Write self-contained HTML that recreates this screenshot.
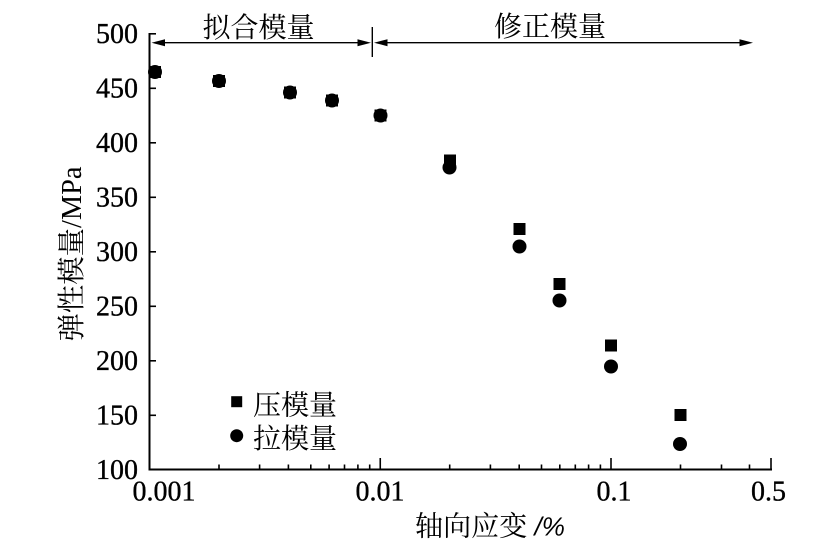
<!DOCTYPE html>
<html>
<head>
<meta charset="utf-8">
<style>
html,body{margin:0;padding:0;background:#fff;}
svg{display:block;}
.num{font-family:"Liberation Serif","Noto Serif CJK SC",serif;font-size:28px;fill:#000;stroke:#000;stroke-width:0.35;}
.cjk{font-family:"Liberation Serif","Noto Serif CJK SC",serif;font-size:28px;fill:#000;}
</style>
</head>
<body>
<svg width="838" height="560" viewBox="0 0 838 560" xmlns="http://www.w3.org/2000/svg">
<rect width="838" height="560" fill="#fff"/>

<!-- axes -->
<g stroke="#000" stroke-width="2" fill="none">
  <line x1="149.5" y1="33" x2="149.5" y2="470.5"/>
  <line x1="148.5" y1="469.5" x2="772" y2="469.5"/>
</g>

<!-- y ticks -->
<g stroke="#000" stroke-width="1.6">
  <line x1="149.5" y1="33.8" x2="156" y2="33.8"/>
  <line x1="149.5" y1="88.3" x2="156" y2="88.3"/>
  <line x1="149.5" y1="142.8" x2="156" y2="142.8"/>
  <line x1="149.5" y1="197.3" x2="156" y2="197.3"/>
  <line x1="149.5" y1="251.8" x2="156" y2="251.8"/>
  <line x1="149.5" y1="306.3" x2="156" y2="306.3"/>
  <line x1="149.5" y1="360.8" x2="156" y2="360.8"/>
  <line x1="149.5" y1="415.3" x2="156" y2="415.3"/>
</g>

<!-- x ticks -->
<g stroke="#000" stroke-width="1.6">
  <!-- major -->
  <line x1="380.25" y1="469.5" x2="380.25" y2="458"/>
  <line x1="611" y1="469.5" x2="611" y2="458"/>
  <line x1="771" y1="469.5" x2="771" y2="458"/>
  <!-- minor decade 1 -->
  <line x1="219" y1="469.5" x2="219" y2="464.5"/>
  <line x1="259.6" y1="469.5" x2="259.6" y2="464.5"/>
  <line x1="288.4" y1="469.5" x2="288.4" y2="464.5"/>
  <line x1="310.8" y1="469.5" x2="310.8" y2="464.5"/>
  <line x1="329.1" y1="469.5" x2="329.1" y2="464.5"/>
  <line x1="344.5" y1="469.5" x2="344.5" y2="464.5"/>
  <line x1="357.9" y1="469.5" x2="357.9" y2="464.5"/>
  <line x1="369.7" y1="469.5" x2="369.7" y2="464.5"/>
  <!-- minor decade 2 -->
  <line x1="449.7" y1="469.5" x2="449.7" y2="464.5"/>
  <line x1="490.4" y1="469.5" x2="490.4" y2="464.5"/>
  <line x1="519.2" y1="469.5" x2="519.2" y2="464.5"/>
  <line x1="541.5" y1="469.5" x2="541.5" y2="464.5"/>
  <line x1="559.8" y1="469.5" x2="559.8" y2="464.5"/>
  <line x1="575.3" y1="469.5" x2="575.3" y2="464.5"/>
  <line x1="588.6" y1="469.5" x2="588.6" y2="464.5"/>
  <line x1="600.4" y1="469.5" x2="600.4" y2="464.5"/>
  <!-- minor decade 3 -->
  <line x1="680.5" y1="469.5" x2="680.5" y2="464.5"/>
  <line x1="721.5" y1="469.5" x2="721.5" y2="464.5"/>
  <line x1="749.5" y1="469.5" x2="749.5" y2="464.5"/>
</g>

<!-- y tick labels -->
<g class="num" text-anchor="end">
  <text x="138" y="43">500</text>
  <text x="138" y="97.5">450</text>
  <text x="138" y="152">400</text>
  <text x="138" y="206.5">350</text>
  <text x="138" y="261">300</text>
  <text x="138" y="315.5">250</text>
  <text x="138" y="370">200</text>
  <text x="138" y="424.5">150</text>
  <text x="138" y="479">100</text>
</g>

<!-- x tick labels -->
<g class="num" text-anchor="middle">
  <text x="164" y="500.5">0.001</text>
  <text x="380" y="500.5">0.01</text>
  <text x="614" y="500.5">0.1</text>
  <text x="768.5" y="500.5">0.5</text>
</g>

<!-- axis titles -->
<text class="cjk" x="415" y="535.5" textLength="150" lengthAdjust="spacingAndGlyphs">轴向应变<tspan font-style="italic" font-family="Liberation Sans, sans-serif" font-size="26"> /%</tspan></text>
<text class="cjk" x="81" y="254" text-anchor="middle" transform="rotate(-90 81 254)" textLength="175" lengthAdjust="spacingAndGlyphs">弹性模量/MPa</text>

<!-- top annotation -->
<text class="cjk" x="258.5" y="37" text-anchor="middle">拟合模量</text>
<text class="cjk" x="550" y="36" text-anchor="middle">修正模量</text>
<g stroke="#000" stroke-width="1.4">
  <line x1="160" y1="42.7" x2="362" y2="42.7"/>
  <line x1="384" y1="42.7" x2="744" y2="42.7"/>
  <line x1="372.3" y1="27" x2="372.3" y2="57"/>
</g>
<g fill="#000">
  <polygon points="151.5,42.7 165,39.2 165,46.2"/>
  <polygon points="371,42.7 357.5,39.2 357.5,46.2"/>
  <polygon points="374,42.7 387.5,39.2 387.5,46.2"/>
  <polygon points="753,42.7 739.5,39.2 739.5,46.2"/>
</g>

<!-- data: squares (压模量) -->
<g fill="#000">
  <rect x="149" y="66" width="12" height="12"/>
  <rect x="213" y="75" width="12" height="12"/>
  <rect x="284" y="86.5" width="12" height="12"/>
  <rect x="326" y="94.5" width="12" height="12"/>
  <rect x="374.5" y="109.5" width="12" height="12"/>
  <rect x="444" y="154.5" width="12" height="12"/>
  <rect x="513.5" y="223" width="12" height="12"/>
  <rect x="553.5" y="278" width="12" height="12"/>
  <rect x="605" y="339.5" width="12" height="12"/>
  <rect x="674.5" y="409" width="12" height="12"/>
</g>
<!-- data: circles (拉模量) -->
<g fill="#000">
  <circle cx="155" cy="72" r="7"/>
  <circle cx="219" cy="81" r="7"/>
  <circle cx="290" cy="92.5" r="7"/>
  <circle cx="332" cy="100.5" r="7"/>
  <circle cx="380.5" cy="115.5" r="7"/>
  <circle cx="449.5" cy="167.5" r="7"/>
  <circle cx="519.5" cy="246.5" r="7"/>
  <circle cx="559.5" cy="300.5" r="7"/>
  <circle cx="611" cy="366.5" r="7"/>
  <circle cx="680" cy="444" r="7"/>
</g>

<!-- legend -->
<rect x="231.2" y="396.2" width="11" height="11" fill="#000"/>
<circle cx="236.7" cy="435.7" r="6.5" fill="#000"/>
<text class="cjk" x="253" y="414.5">压模量</text>
<text class="cjk" x="253" y="448">拉模量</text>
</svg>
</body>
</html>
